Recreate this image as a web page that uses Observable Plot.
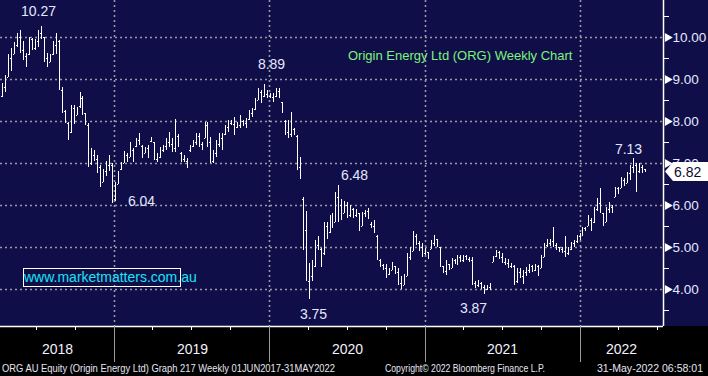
<!DOCTYPE html>
<html><head><meta charset="utf-8">
<script src="https://cdn.jsdelivr.net/npm/d3@7"></script>
<script src="https://cdn.jsdelivr.net/npm/@observablehq/plot@0.6"></script>
<style>
html,body{margin:0;padding:0;background:#000;}
#chart{position:relative;width:708px;height:376px;overflow:hidden;background:linear-gradient(#100e48 0,#100e48 326px,#000 326px);}
#chart svg{display:block;position:absolute;left:0;top:0;}
.wm{position:absolute;left:23px;top:268px;width:156px;height:17px;border:1px solid #fff;color:#18e4f4;font:14px "Liberation Sans",Arial,sans-serif;line-height:17px;text-align:center;white-space:nowrap;}
.foot{position:absolute;top:362px;color:#e6e6f2;font:11px "Liberation Sans Narrow","Liberation Sans",Arial,sans-serif;white-space:nowrap;display:inline-block;transform-origin:0 0;}
.title{position:absolute;left:348px;top:48px;color:#7ef27a;font:13px "Liberation Sans",Arial,sans-serif;white-space:nowrap;}
</style></head><body><div id="chart"></div>
<script>
// ---- data (weekly bars, first week ending 13 Apr 2018) ----
const firstWeek = "2018-04-13";
const opens = [8.60,8.80,9.05,9.50,9.60,9.80,10.00,9.70,9.55,9.60,
9.95,9.75,9.90,10.10,10.00,9.50,9.40,9.60,9.80,9.90,
8.75,8.25,7.95,7.75,8.30,8.15,8.35,8.55,8.20,7.90,
7.00,7.20,7.10,6.90,6.55,6.80,6.95,6.95,6.15,6.50,
6.85,7.00,7.20,7.15,7.30,7.40,7.55,7.40,7.25,7.35,
7.52,7.50,7.10,7.15,7.30,7.40,7.50,7.45,7.35,7.65,
7.25,7.10,7.05,7.30,7.40,7.50,7.65,7.45,7.60,7.90,
7.50,7.05,7.25,7.45,7.60,7.70,7.85,7.95,7.92,7.85,
7.90,8.00,7.95,8.05,8.20,8.28,8.50,8.70,8.60,8.65,
8.60,8.58,8.60,8.72,8.45,8.00,7.75,7.70,7.80,7.65,
6.90,6.15,5.40,4.20,4.30,4.55,5.05,4.95,4.85,5.50,
5.35,5.70,5.60,6.20,6.00,5.80,6.00,5.75,5.90,5.75,
5.80,5.50,5.80,5.85,5.55,5.50,5.25,4.70,4.58,4.50,
4.35,4.45,4.55,4.40,4.15,4.10,4.30,4.75,4.90,5.25,
5.10,5.00,4.85,4.88,4.95,5.10,5.18,5.00,4.55,4.42,
4.60,4.50,4.70,4.65,4.75,4.70,4.78,4.72,4.70,4.15,
4.10,4.15,4.05,4.00,4.05,4.65,4.78,4.88,4.75,4.65,
4.62,4.55,4.55,4.20,4.40,4.30,4.40,4.45,4.55,4.45,
4.55,4.50,4.77,5.05,5.10,5.15,5.05,5.00,4.95,4.90,
4.85,4.95,5.10,5.15,5.25,5.25,5.45,5.50,5.65,5.60,
5.90,6.05,5.80,5.60,5.90,5.95,6.20,6.40,6.40,6.60,
6.52,6.75,6.90,6.95,6.80,6.90,6.85];
const highs = [8.90,9.10,9.60,9.75,9.88,10.10,10.17,9.90,9.62,10.00,
9.98,9.95,10.17,10.27,10.00,9.62,9.60,9.90,10.10,9.93,
8.80,8.26,7.98,8.38,8.38,8.33,8.69,8.60,8.20,7.95,
7.36,7.30,7.20,6.95,6.86,7.05,7.20,7.00,6.55,6.80,
7.03,7.29,7.25,7.50,7.35,7.60,7.72,7.43,7.39,7.43,
7.63,7.51,7.23,7.39,7.43,7.59,7.75,7.59,8.04,7.70,
7.27,7.19,7.11,7.43,7.55,7.71,7.71,7.51,7.98,7.98,
7.63,7.30,7.55,7.71,7.71,7.90,8.02,8.02,8.10,7.98,
8.14,8.02,8.06,8.26,8.30,8.54,8.78,8.74,8.88,8.74,
8.66,8.66,8.78,8.78,8.46,8.02,8.02,8.22,7.83,7.67,
7.15,6.20,5.85,4.62,4.70,5.17,5.25,4.97,5.60,5.60,
5.76,5.80,6.30,6.48,6.15,6.10,6.07,6.00,5.92,5.90,
5.80,5.84,5.88,5.92,5.60,5.64,5.29,4.72,4.60,4.60,
4.50,4.65,4.55,4.50,4.30,4.35,4.85,5.00,5.37,5.30,
5.15,5.10,4.97,4.88,5.17,5.28,5.18,5.00,4.55,4.69,
4.60,4.73,4.72,4.81,4.80,4.80,4.80,4.77,4.77,4.20,
4.22,4.17,4.10,4.10,4.15,4.78,4.93,4.90,4.85,4.73,
4.72,4.62,4.57,4.50,4.49,4.45,4.53,4.60,4.58,4.60,
4.57,4.81,5.10,5.20,5.20,5.48,5.10,5.01,5.01,5.25,
5.00,5.13,5.17,5.29,5.33,5.48,5.48,5.76,5.68,5.96,
6.16,6.40,5.80,5.96,6.08,6.00,6.44,6.44,6.67,6.64,
6.79,6.95,7.13,6.99,6.99,6.95,6.86];
const lows = [8.57,8.70,9.05,9.20,9.60,9.76,9.62,9.45,9.29,9.57,
9.70,9.70,9.76,9.95,9.40,9.29,9.40,9.57,9.60,8.74,
8.19,7.95,7.55,7.71,7.93,8.15,8.31,8.14,7.90,6.90,
6.95,7.05,6.76,6.43,6.55,6.70,6.80,6.04,6.10,6.50,
6.83,6.99,7.03,7.15,7.03,7.39,7.42,7.11,7.23,7.11,
7.51,7.07,7.03,7.11,7.27,7.31,7.39,7.27,7.27,7.39,
7.03,7.03,6.87,7.27,7.39,7.43,7.39,7.31,7.59,7.39,
6.99,6.99,7.15,7.39,7.31,7.67,7.75,7.90,7.67,7.83,
7.83,7.87,7.83,8.02,8.10,8.26,8.50,8.42,8.58,8.54,
8.54,8.46,8.58,8.54,8.20,7.67,7.59,7.63,7.67,6.83,
6.63,4.93,4.20,3.75,4.20,4.52,4.93,4.53,4.81,5.20,
5.33,5.45,5.60,5.60,5.65,5.80,5.68,5.72,5.70,5.72,
5.37,5.50,5.72,5.68,5.45,5.33,4.69,4.53,4.45,4.25,
4.33,4.45,4.35,4.10,4.00,4.10,4.30,4.70,4.90,5.05,
4.90,4.75,4.81,4.72,4.95,5.02,5.00,4.53,4.37,4.33,
4.45,4.49,4.60,4.57,4.65,4.65,4.68,4.65,4.10,4.02,
4.05,4.00,3.87,3.98,3.97,4.65,4.77,4.72,4.62,4.58,
4.50,4.50,4.10,4.15,4.25,4.13,4.30,4.37,4.40,4.43,
4.30,4.49,4.77,5.01,5.03,5.00,4.93,4.89,4.85,4.75,
4.80,4.93,5.01,5.09,5.17,5.25,5.37,5.50,5.37,5.56,
5.85,5.80,5.50,5.60,5.80,5.82,6.20,6.26,6.40,6.46,
6.52,6.60,6.75,6.32,6.75,6.75,6.80];
const closes = [8.80,9.05,9.50,9.45,9.80,10.00,9.70,9.55,9.40,9.95,
9.75,9.90,10.10,10.05,9.50,9.35,9.55,9.80,9.95,8.80,
8.25,8.05,7.70,8.30,8.00,8.30,8.60,8.20,7.95,7.00,
7.25,7.10,6.85,6.50,6.80,6.95,7.00,6.10,6.45,6.75,
6.95,7.25,7.10,7.45,7.10,7.55,7.50,7.20,7.35,7.20,
7.60,7.15,7.15,7.30,7.40,7.50,7.45,7.35,7.90,7.45,
7.10,7.05,7.00,7.40,7.50,7.65,7.45,7.40,7.90,7.50,
7.05,7.25,7.45,7.60,7.40,7.85,7.95,7.92,7.75,7.90,
8.05,7.95,8.00,8.20,8.25,8.50,8.70,8.50,8.65,8.60,
8.58,8.55,8.72,8.58,8.25,7.75,7.65,7.85,7.70,6.90,
6.70,5.05,4.25,4.30,4.50,5.05,5.00,4.85,5.50,5.30,
5.70,5.55,6.20,6.00,5.75,6.05,5.75,5.95,5.75,5.85,
5.40,5.80,5.85,5.70,5.50,5.40,4.75,4.60,4.50,4.35,
4.45,4.60,4.40,4.15,4.05,4.30,4.75,4.90,5.30,5.10,
5.00,4.85,4.90,4.78,5.10,5.20,5.05,4.60,4.42,4.60,
4.50,4.70,4.65,4.75,4.70,4.78,4.72,4.70,4.15,4.10,
4.15,4.05,4.00,4.05,4.00,4.75,4.88,4.75,4.65,4.62,
4.55,4.58,4.20,4.40,4.30,4.40,4.45,4.55,4.45,4.55,
4.35,4.75,5.05,5.10,5.15,5.05,5.00,4.95,4.90,4.85,
4.95,5.10,5.15,5.25,5.20,5.45,5.40,5.70,5.45,5.90,
6.05,5.90,5.60,5.90,5.95,5.90,6.40,6.30,6.60,6.50,
6.75,6.90,7.00,6.80,6.90,6.85,6.82];
const yTickValues = [4, 5, 6, 7, 8, 9, 10];
const yMinorValues = [3.5, 4.5, 5.5, 6.5, 7.5, 8.5, 9.5, 10.5];
const yearLabels = ["2018", "2019", "2020", "2021", "2022"];
const extremeWeeks = [13, 37, 88, 103, 113, 162, 212];
const extremeLabels = ["10.27", "6.04", "8.89", "3.75", "6.48", "3.87", "7.13"];
const lastPrice = "6.82";
const titleText = "Origin Energy Ltd (ORG) Weekly Chart";
const watermark = "www.marketmatters.com.au";
const footLeft = "ORG AU Equity (Origin Energy Ltd) Graph 217  Weekly 01JUN2017-31MAY2022";
const footMid = "Copyright\u00a9 2022 Bloomberg Finance L.P.";
const footRight = "31-May-2022 06:58:01";

// ---- build ----
const start = new Date(firstWeek + "T00:00:00Z");
const bars = closes.map((c, i) => ({date: d3.utcDay.offset(start, 7 * i), open: opens[i], high: highs[i], low: lows[i], close: c}));
const xDomain = [new Date("2018-04-08T00:00:00Z"), new Date("2022-07-15T08:00:00Z")];
const yDomain = [3.119, 10.881];
const yearStarts = yearLabels.slice(1).map(y => new Date(`${y}-01-01T00:00:00Z`));
const yearMids = yearLabels.map(y => {
  const a = Math.max(+xDomain[0], +new Date(`${y}-01-01T00:00:00Z`));
  const b = Math.min(+xDomain[1], +new Date(`${+y + 1}-01-01T00:00:00Z`));
  return {date: new Date((a + b) / 2), label: y};
});
const quarterTicks = d3.utcMonth.every(3).range(xDomain[0], xDomain[1]).filter(d => d.getUTCMonth() !== 0);
const extremes = extremeWeeks.map((w, i) => ({date: bars[w].date, value: +extremeLabels[i], label: extremeLabels[i]}));
const labelOffsets = [[-3, -15], [29, -2], [7, -20], [4, 15], [16, -10], [-11, 14], [-5, -9]];
const xEnd = xDomain[1];
const tickHours = 56;
const grid = {stroke: "#9a9aa6", strokeOpacity: 1, strokeWidth: 1.6, strokeDasharray: "2,3"};
const labelColor = "#e4e8ff";

const priceBox = (index, scales, values, dimensions) => {
  const y = Math.round(scales.y(+lastPrice)) + 0.5;
  const xr = dimensions.width - dimensions.marginRight;
  const g = d3.create("svg:g");
  g.append("path")
    .attr("d", `M${xr + 2},${y} L${xr + 10},${y - 9.5} H${dimensions.width} V${y + 9.5} H${xr + 10} Z`)
    .attr("fill", "#ffffff");
  g.append("text").attr("x", xr + 11).attr("y", y).attr("dy", "0.36em")
    .attr("text-anchor", "start")
    .attr("fill", "#0a0a30").attr("font-size", 14).attr("font-family", "Liberation Sans, Arial, sans-serif")
    .text(lastPrice);
  return g.node();
};

const chart = Plot.plot({
  width: 708, height: 376,
  marginTop: 0, marginLeft: 0, marginRight: 45, marginBottom: 50,
  style: {background: "transparent", color: "white", fontFamily: "Liberation Sans, Arial, sans-serif"},
  x: {type: "utc", domain: xDomain, round: true, axis: null},
  y: {domain: yDomain, round: true, axis: null},
  marks: [
    Plot.gridY(yTickValues, grid),
    Plot.gridX(yearStarts, grid),
    Plot.ruleX(bars, {x: "date", y1: "low", y2: "high", stroke: "white", strokeWidth: 1}),
    Plot.ruleY(bars, {y: "open", x1: d => d3.utcHour.offset(d.date, -tickHours), x2: "date", stroke: "white"}),
    Plot.ruleY(bars, {y: "close", x1: "date", x2: d => d3.utcHour.offset(d.date, tickHours), stroke: "white"}),
    Plot.ruleX([xEnd], {stroke: "white", strokeWidth: 1.5}),
    Plot.ruleY([yDomain[0]], {stroke: "white", strokeWidth: 1.5}),
    Plot.axisY(yMinorValues, {anchor: "right", tickSize: 5, tickFormat: () => "", stroke: "white"}),
    Plot.dot(yTickValues, {x: () => xEnd, y: d => d, symbol: "triangle", rotate: 90, r: 3.4, fill: "white", stroke: "none", dx: 4}),
    Plot.text(yTickValues, {x: () => xEnd, y: d => d, text: d => d.toFixed(2), dx: 9, textAnchor: "start", fill: labelColor, fontSize: 13.5}),
    Plot.axisX(quarterTicks, {anchor: "bottom", tickSize: 4, tickFormat: () => "", stroke: "white"}),
    Plot.axisX(yearStarts, {anchor: "bottom", tickSize: 36, tickFormat: () => "", stroke: "#9a9a9a"}),
    Plot.text(yearMids, {x: "date", text: "label", frameAnchor: "bottom", dy: 27, fill: "#f2f2ff", fontSize: 14}),
    ...extremes.map((e, i) => Plot.text([e], {x: "date", y: "value", text: "label", dx: labelOffsets[i][0], dy: labelOffsets[i][1], fill: labelColor, fontSize: 14})),
    priceBox
  ]
});

const root = document.getElementById("chart");
root.appendChild(chart);
const addDiv = (cls, text, css) => { const d = document.createElement("div"); d.className = cls; d.textContent = text; Object.assign(d.style, css || {}); root.appendChild(d); return d; };
addDiv("title", titleText);
addDiv("wm", watermark);
const fits = [[footLeft, 2, 333], [footMid, 385, 160], [footRight, 597, 106]];
for (const [t, left, w] of fits) {
  const d = addDiv("foot", t, {left: left + "px"});
  const cw = d.getBoundingClientRect().width;
  d.style.transform = `scaleX(${w / cw})`;
}
</script></body></html>
